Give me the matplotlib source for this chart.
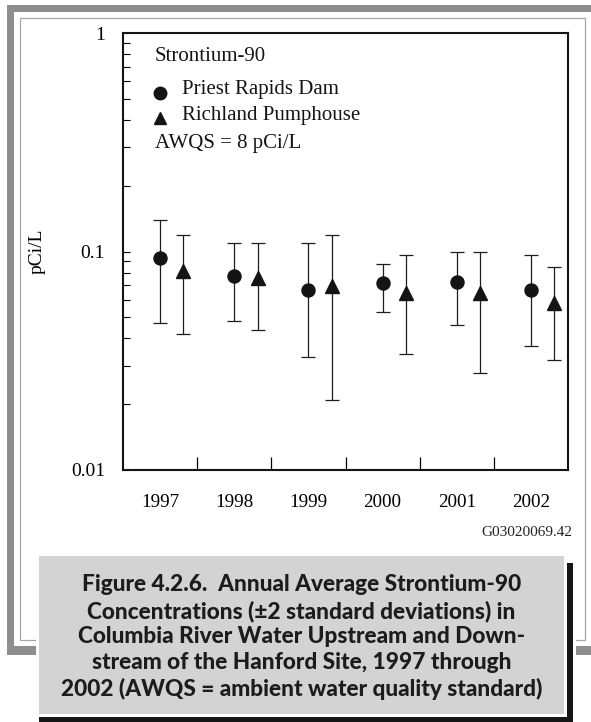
import numpy as np
import matplotlib
matplotlib.use("Agg")
from matplotlib import pyplot as plt
from matplotlib.patches import Rectangle
from matplotlib.ticker import FixedLocator, LogLocator, NullFormatter

years = ["1997", "1998", "1999", "2000", "2001", "2002"]

# Priest Rapids Dam (upstream)
priest = [0.093, 0.077, 0.067, 0.0715, 0.0727, 0.0667]
priest_hi = [0.139, 0.109, 0.109, 0.0877, 0.0998, 0.0964]
priest_lo = [0.0472, 0.0482, 0.033, 0.053, 0.0461, 0.0371]

# Richland Pumphouse (downstream)
rich = [0.0815, 0.076, 0.0695, 0.0644, 0.0644, 0.0579]
rich_hi = [0.119, 0.109, 0.119, 0.0964, 0.0998, 0.0846]
rich_lo = [0.0419, 0.0437, 0.021, 0.034, 0.0279, 0.032]

W, H = 591, 722
serif = ["Liberation Serif", "DejaVu Serif"]

fig = plt.figure(figsize=(W / 100, H / 100), dpi=100)

# background layer in pixel coords for frame + caption box
bg = fig.add_axes([0, 0, 1, 1], zorder=0)
bg.set_xlim(0, W)
bg.set_ylim(H, 0)
bg.axis("off")

def box(x0, y0, x1, y1, **kw):
    bg.add_patch(Rectangle((x0, y0), x1 - x0, y1 - y0, **kw))

frame_gray = "#8e8e8e"
box(7, 5, W + 2, 12, color=frame_gray, lw=0)
box(7, 5, 14, 655, color=frame_gray, lw=0)
box(7, 646, W + 2, 655, color=frame_gray, lw=0)
box(19.5, 18, 585, 640, fill=False, ec="#a6a6a6", lw=0.9)

# caption box with shadow
box(36, 553, 576, H + 2, color="white", lw=0)
box(567, 563, 573, H + 2, color="#161616", lw=0)
box(39, 717, 573, H + 2, color="#161616", lw=0)
box(39, 556, 564, 714, color="#d3d3d3", lw=0)

caption = ("Figure 4.2.6.  Annual Average Strontium-90\n"
           "Concentrations (\u00b12 standard deviations) in\n"
           "Columbia River Water Upstream and Down-\n"
           "stream of the Hanford Site, 1997 through\n"
           "2002 (AWQS = ambient water quality standard)")
bg.text(301.5, 637, caption, ha="center", va="center", fontsize=16.3,
        family=["Lato", "DejaVu Sans"], fontweight=900, color="#1c1c1c",
        linespacing=1.26)

bg.text(572, 532, "G03020069.42", ha="right", va="center", fontsize=11,
        family=serif, color="#222222")

# main plot
ax = fig.add_axes([123 / W, 1 - 470 / H, 445 / W, 437 / H], zorder=1)
x = np.arange(len(years)) + 0.5
off = 0.315

p = np.array(priest)
r = np.array(rich)
ax.errorbar(x, p, yerr=[p - np.array(priest_lo), np.array(priest_hi) - p],
            fmt="o", ms=9.4, color="#141414", ecolor="#1e1e1e", elinewidth=0.9,
            capsize=4.7, capthick=0.9)
ax.errorbar(x + off, r, yerr=[r - np.array(rich_lo), np.array(rich_hi) - r],
            fmt="^", ms=9.5, color="#141414", ecolor="#1e1e1e", elinewidth=0.9,
            capsize=4.7, capthick=0.9)

ax.set_yscale("log")
ax.set_ylim(0.01, 1)
ax.set_xlim(0, len(years))

ax.yaxis.set_major_locator(FixedLocator([0.01, 0.1, 1]))
ax.set_yticklabels(["0.01", "0.1", "1"])
ax.yaxis.set_minor_locator(LogLocator(base=10, subs=np.arange(2, 10)))
ax.yaxis.set_minor_formatter(NullFormatter())
ax.tick_params(axis="y", which="both", direction="in", length=5, width=0.8,
               pad=13, labelsize=14, right=False)

ax.set_xticks(x)
ax.set_xticklabels(years)
ax.xaxis.set_minor_locator(FixedLocator(np.arange(1, len(years))))
ax.tick_params(axis="x", which="major", length=0, pad=17, labelsize=13.8)
ax.tick_params(axis="x", which="minor", direction="in", length=9.5, width=0.9,
               top=False)
for lab in ax.get_xticklabels() + ax.get_yticklabels():
    lab.set_family(serif)

for s in ax.spines.values():
    s.set_linewidth(1.5)
    s.set_color("#141414")

ax.set_ylabel("pCi/L", family=serif, fontsize=14)
ax.yaxis.set_label_coords(-0.175, 0.5)

# legend block
tk = dict(transform=ax.transAxes, family=serif, fontsize=15, va="center",
          color="#141414")
ax.text(0.072, 0.947, "Strontium-90", **tk)
ax.plot([0.083], [0.863], "o", ms=9, color="#141414", transform=ax.transAxes)
ax.text(0.133, 0.870, "Priest Rapids Dam", **tk)
ax.plot([0.083], [0.805], "^", ms=9, color="#141414", transform=ax.transAxes)
ax.text(0.133, 0.812, "Richland Pumphouse", **tk)
ax.text(0.072, 0.746, "AWQS = 8 pCi/L", **tk)

fig.savefig("out.png", dpi=100)
